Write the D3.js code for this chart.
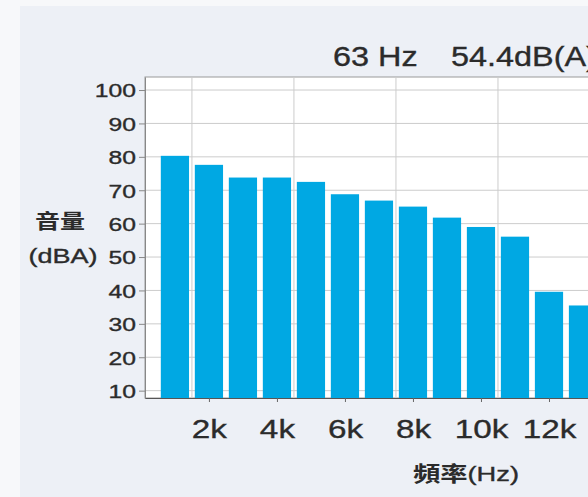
<!DOCTYPE html>
<html lang="zh-Hant">
  <head>
    <meta charset="utf-8">
    <script src="https://cdn.jsdelivr.net/npm/d3@7"></script>
    <title>頻率 音量</title>
    <style>
      html, body { margin: 0; padding: 0; overflow: hidden; background: #f7f8fa; }
      text { font-family: "Liberation Sans", Arial, sans-serif; fill: #2b2b2b; stroke: #2b2b2b; stroke-width: 0.35px; }
      .cjk { font-family: "Noto Sans CJK TC", "Noto Sans CJK SC", sans-serif; font-weight: bold; stroke: none; }
    </style>
  </head>
  <body>
    <script>

    // values
    var freqs = [1, 2, 3, 4, 5, 6, 7, 8, 9, 10, 11, 12, 13];          // kHz
    var levels = [80.3, 77.6, 73.8, 73.8, 72.5, 68.8, 66.9, 65.1, 61.8, 59.0, 56.1, 39.6, 35.5];
    var yTicks = [10, 20, 30, 40, 50, 60, 70, 80, 90, 100];
    var xTicks = [2, 4, 6, 8, 10, 12];
    var xGrid = [1.5, 4.5, 7.5, 10.5, 13.5];
    var titleParts = ["63 Hz", "54.4dB(A)"];

    var W = 588, H = 497;
    var margin = {top: 77, left: 145, bottom: 99, right: -46};   // plot runs off the right edge

    var x = d3.scaleLinear()
        .domain([0.12, 14.5])
        .range([margin.left, W - margin.right]);

    var y = d3.scaleLinear()
        .domain([7.8, 103.9])
        .range([H - margin.bottom, margin.top]);

    var svg = d3.select("body")
      .append("svg")
        .attr("width", W)
        .attr("height", H);

    // panel behind the chart
    svg.append("rect")
        .attr("x", 20).attr("y", 6)
        .attr("width", W - 20).attr("height", H - 6)
        .attr("fill", "#edf0f6");

    // plot background
    svg.append("rect")
        .attr("x", x.range()[0]).attr("y", y.range()[1])
        .attr("width", x.range()[1] - x.range()[0])
        .attr("height", y.range()[0] - y.range()[1])
        .attr("fill", "#fff")
        .attr("stroke", "#999");

    // grid
    svg.append("g").selectAll("line")
        .data(yTicks)
        .join("line")
          .attr("x1", x.range()[0]).attr("x2", x.range()[1])
          .attr("y1", d => y(d)).attr("y2", d => y(d))
          .attr("stroke", "#ccc");

    svg.append("g").selectAll("line")
        .data(xGrid)
        .join("line")
          .attr("x1", d => x(d)).attr("x2", d => x(d))
          .attr("y1", y.range()[1]).attr("y2", y.range()[0])
          .attr("stroke", "#ccc");

    // bars
    var bw = x(0.83) - x(0);
    svg.append("g").selectAll("rect")
        .data(freqs)
        .join("rect")
          .attr("x", (d, i) => x(d) - bw / 2)
          .attr("width", bw)
          .attr("y", (d, i) => y(levels[i]))
          .attr("height", (d, i) => y.range()[0] - y(levels[i]))
          .attr("fill", "#00a8e3");

    // axes
    var yAxis = svg.append("g")
        .attr("transform", "translate(" + x.range()[0] + ",0)")
        .call(d3.axisLeft(y).tickValues(yTicks).tickSize(6).tickSizeOuter(0));
    yAxis.select(".domain").attr("stroke", "#888");
    yAxis.selectAll(".tick line").attr("stroke", "#888");
    yAxis.selectAll(".tick text")
        .attr("x", -7)
        .attr("dy", "0.36em")
        .attr("transform", "scale(1.3,1)")
        .style("font-size", "19px");

    var xAxis = svg.append("g")
        .attr("transform", "translate(0," + y.range()[0] + ")")
        .call(d3.axisBottom(x).tickValues(xTicks).tickFormat(d => d + "k").tickSize(4).tickSizeOuter(0));
    xAxis.select(".domain").attr("stroke", "#555");
    xAxis.selectAll(".tick line").attr("stroke", "#666");
    xAxis.selectAll(".tick text")
        .attr("y", 0)
        .attr("dy", 40)
        .attr("transform", "scale(1.28,1)")
        .style("font-size", "26px");

    // title
    svg.append("text")
        .attr("transform", "translate(333,66) scale(1.2,1)")
        .style("font-size", "27px")
        .text(titleParts[0]);
    svg.append("text")
        .attr("transform", "translate(451,66) scale(1.2,1)")
        .style("font-size", "27px")
        .text(titleParts[1]);

    // y axis title
    svg.append("text")
        .attr("class", "cjk")
        .attr("text-anchor", "middle")
        .attr("transform", "translate(60,229) scale(1.25,1)")
        .style("font-size", "20px")
        .text("音量");
    svg.append("text")
        .attr("text-anchor", "middle")
        .attr("transform", "translate(63,263) scale(1.35,1)")
        .style("font-size", "20px")
        .text("(dBA)");

    // x axis title
    var xt = svg.append("text")
        .attr("text-anchor", "middle")
        .attr("transform", "translate(466,481) scale(1.3,1)")
        .style("font-size", "21px");
    xt.append("tspan").attr("class", "cjk").text("頻率");
    xt.append("tspan").text("(Hz)");

    </script>
  </body>
</html>
